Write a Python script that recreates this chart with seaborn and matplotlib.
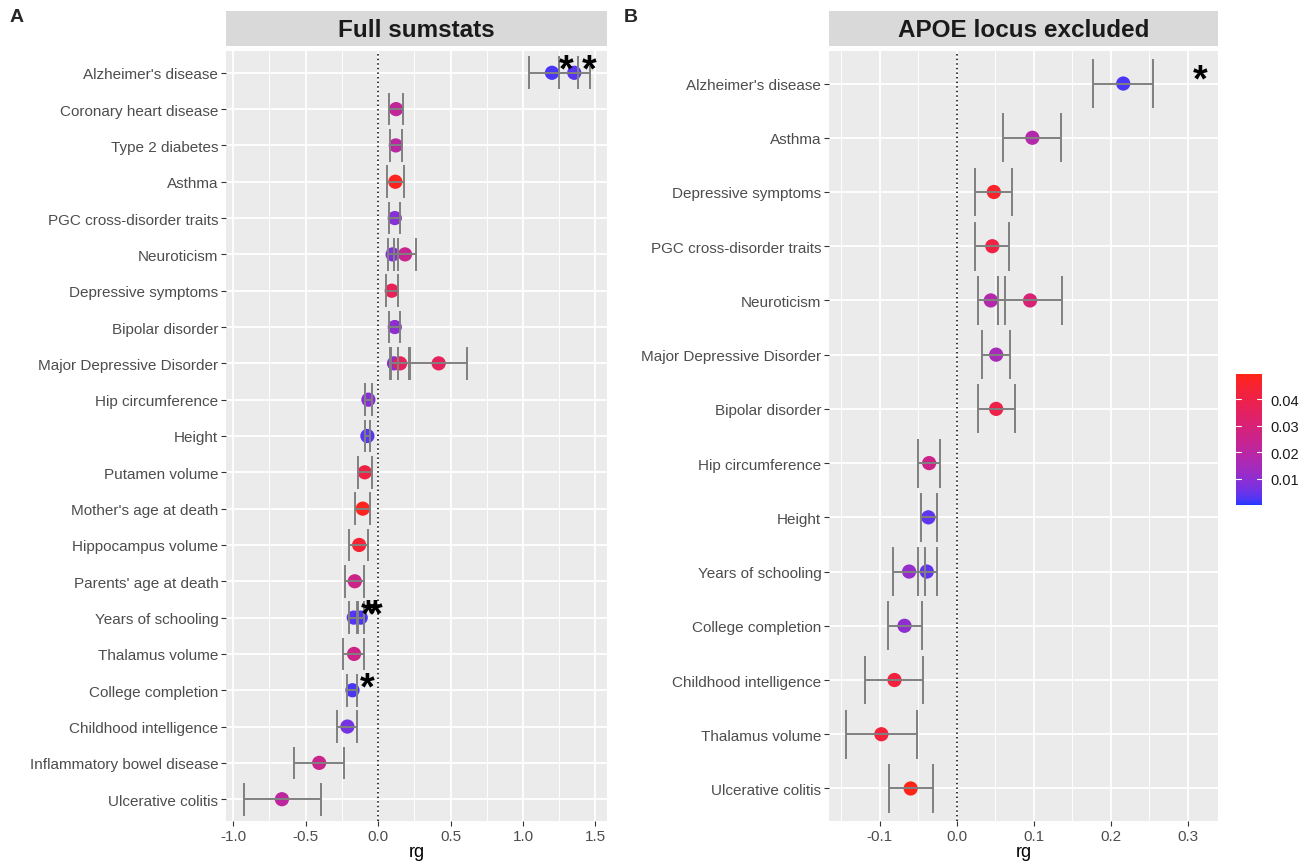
import numpy as np
import pandas as pd
import matplotlib
matplotlib.use("Agg")
import matplotlib.pyplot as plt
import seaborn as sns
from matplotlib.colors import ListedColormap, Normalize, to_rgb
from matplotlib.ticker import MultipleLocator

# ---- panel A: full sumstats (one entry per point, rows in order top->bottom)
trait_a = ["Alzheimer's disease", "Alzheimer's disease", "Coronary heart disease",
           "Type 2 diabetes", "Asthma", "PGC cross-disorder traits", "Neuroticism",
           "Neuroticism", "Depressive symptoms", "Bipolar disorder",
           "Major Depressive Disorder", "Major Depressive Disorder",
           "Major Depressive Disorder", "Hip circumference", "Height",
           "Putamen volume", "Mother's age at death", "Hippocampus volume",
           "Parents' age at death", "Years of schooling", "Years of schooling",
           "Thalamus volume", "College completion", "Childhood intelligence",
           "Inflammatory bowel disease", "Ulcerative colitis"]
rg_a = [1.20, 1.354, 0.124, 0.122, 0.119, 0.115, 0.100, 0.186, 0.094, 0.115,
        0.110, 0.152, 0.418, -0.067, -0.074, -0.092, -0.106, -0.131, -0.161,
        -0.168, -0.120, -0.166, -0.177, -0.212, -0.407, -0.664]
lo_a = [1.04, 1.248, 0.076, 0.080, 0.060, 0.078, 0.071, 0.110, 0.053, 0.076,
        0.083, 0.090, 0.222, -0.090, -0.090, -0.136, -0.159, -0.200, -0.230,
        -0.198, -0.145, -0.239, -0.216, -0.281, -0.581, -0.929]
hi_a = [1.38, 1.462, 0.172, 0.166, 0.177, 0.154, 0.135, 0.260, 0.136, 0.152,
        0.137, 0.214, 0.614, -0.041, -0.055, -0.043, -0.053, -0.069, -0.094,
        -0.138, -0.094, -0.094, -0.145, -0.143, -0.234, -0.393]
col_a = [0.002, 0.003, 0.022, 0.020, 0.048, 0.009, 0.008, 0.024, 0.037, 0.010,
         0.010, 0.036, 0.036, 0.009, 0.003, 0.041, 0.048, 0.045, 0.026,
         0.003, 0.002, 0.026, 0.002, 0.006, 0.025, 0.021]
star_a = [True, True] + [False] * 17 + [True, True, False, True, False, False, False]

# ---- panel B: APOE locus excluded
trait_b = ["Alzheimer's disease", "Asthma", "Depressive symptoms",
           "PGC cross-disorder traits", "Neuroticism", "Neuroticism",
           "Major Depressive Disorder", "Bipolar disorder", "Hip circumference",
           "Height", "Years of schooling", "Years of schooling",
           "College completion", "Childhood intelligence", "Thalamus volume",
           "Ulcerative colitis"]
rg_b = [0.216, 0.098, 0.048, 0.046, 0.044, 0.095, 0.051, 0.051, -0.036, -0.037,
        -0.062, -0.039, -0.068, -0.081, -0.098, -0.060]
lo_b = [0.177, 0.060, 0.024, 0.024, 0.027, 0.054, 0.032, 0.027, -0.051, -0.047,
        -0.083, -0.050, -0.090, -0.119, -0.144, -0.088]
hi_b = [0.255, 0.135, 0.072, 0.068, 0.062, 0.137, 0.069, 0.075, -0.022, -0.026,
        -0.042, -0.026, -0.045, -0.044, -0.052, -0.031]
col_b = [0.002, 0.018, 0.046, 0.041, 0.018, 0.030, 0.015, 0.040, 0.026, 0.004,
         0.011, 0.004, 0.010, 0.042, 0.043, 0.049]
star_b = [True] + [False] * 15

col_ticks = [0.01, 0.02, 0.03, 0.04]
col_range = (0.0, 0.0495)


# blue -> red gradient interpolated in Lab space (like ggplot's scale_colour_gradient)
M = np.array([[0.4124, 0.3576, 0.1805], [0.2126, 0.7152, 0.0722], [0.0193, 0.1192, 0.9505]])
WHITE = np.array([0.95047, 1.0, 1.08883])


def to_lab(c):
    rgb = np.array(to_rgb(c))
    lin = np.where(rgb <= 0.04045, rgb / 12.92, ((rgb + 0.055) / 1.055) ** 2.4)
    xyz = M @ lin / WHITE
    f = np.where(xyz > 0.008856, np.cbrt(xyz), 7.787 * xyz + 16 / 116)
    return np.array([116 * f[1] - 16, 500 * (f[0] - f[1]), 200 * (f[1] - f[2])])


def from_lab(lab):
    fy = (lab[:, 0] + 16) / 116
    f = np.stack([fy + lab[:, 1] / 500, fy, fy - lab[:, 2] / 200], axis=1)
    xyz = np.where(f > 0.2069, f ** 3, (f - 16 / 116) / 7.787) * WHITE
    lin = xyz @ np.linalg.inv(M).T
    lin = np.clip(lin, 0, 1)
    rgb = np.where(lin <= 0.0031308, 12.92 * lin, 1.055 * lin ** (1 / 2.4) - 0.055)
    return np.clip(rgb, 0, 1)


t = np.linspace(0, 1, 256)[:, None]
lab_lo, lab_hi = to_lab("#2038FF"), to_lab("#FF2414")
cmap = ListedColormap(from_lab(lab_lo * (1 - t) + lab_hi * t))
norm = Normalize(*col_range)

sns.set_style("darkgrid", {"axes.facecolor": "#EBEBEB", "grid.color": "white"})
plt.rcParams["font.family"] = ["Liberation Sans", "DejaVu Sans"]

W, H = 1309, 862
fig = plt.figure(figsize=(W / 100, H / 100), dpi=100)
fig.patch.set_facecolor("white")


def panel(left, right, title, trait, rg, lo, hi, col, star, xlim, major, minor):
    df = pd.DataFrame({"trait": trait, "rg": rg, "lo": lo, "hi": hi,
                       "col": col, "star": star})
    rows = list(pd.unique(df["trait"]))
    df["ypos"] = df["trait"].map({r: i for i, r in enumerate(rows)})

    ax = fig.add_axes([left / W, (H - 822) / H, (right - left) / W, 770 / H])
    ax.set_xlim(*xlim)
    ax.set_ylim(len(rows) - 1 + 0.6, -0.6)
    ax.xaxis.set_major_locator(MultipleLocator(major))
    ax.xaxis.set_minor_locator(MultipleLocator(minor))
    ax.grid(which="major", color="white", lw=1.3)
    ax.grid(which="minor", axis="x", color="white", lw=0.65)
    ax.set_axisbelow(True)
    for s in ax.spines.values():
        s.set_visible(False)

    ax.axvline(0, color="black", lw=1.1, ls=(0, (1, 2)), zorder=1)
    sns.scatterplot(data=df, x="rg", y="ypos", hue="col", palette=cmap,
                    hue_norm=norm, s=105, linewidth=0, legend=False, ax=ax, zorder=3)
    ax.hlines(df["ypos"], df["lo"], df["hi"], color="#808080", lw=1.4, zorder=4)
    for end in ("lo", "hi"):
        ax.vlines(df[end], df["ypos"] - 0.45, df["ypos"] + 0.45,
                  color="#808080", lw=1.4, zorder=4)
    for _, r in df[df["star"]].iterrows():
        ax.text(r["rg"] + 0.1, r["ypos"] - 0.05, "*", fontsize=27, fontweight="bold",
                ha="center", va="center", color="black", zorder=5)

    ax.set_yticks(range(len(rows)))
    ax.set_yticklabels(rows)
    ax.set_xticks(np.arange(np.ceil(xlim[0] / major) * major, xlim[1], major))
    ax.set_xticklabels([f"{v:.1f}" for v in ax.get_xticks()])
    ax.tick_params(axis="both", which="major", length=3.5, width=0.8, color="#333333",
                   labelsize=11, labelcolor="#4D4D4D", pad=2, left=True, bottom=True)
    ax.tick_params(axis="x", which="minor", length=0)
    ax.set_xlabel("rg", fontsize=13, color="black", labelpad=0)
    ax.set_ylabel("")

    strip = fig.add_axes([left / W, (H - 47) / H, (right - left) / W, 35 / H])
    strip.set_facecolor("#D9D9D9")
    strip.set_xticks([])
    strip.set_yticks([])
    strip.grid(False)
    for s in strip.spines.values():
        s.set_visible(False)
    strip.text(0.5, 0.48, title, ha="center", va="center", fontsize=17.5,
               fontweight="bold", color="#1A1A1A", transform=strip.transAxes)
    return ax


panel(226, 607, "Full sumstats", trait_a, rg_a, lo_a, hi_a, col_a, star_a,
      (-1.05, 1.58), 0.5, 0.25)
panel(829, 1218, "APOE locus excluded", trait_b, rg_b, lo_b, hi_b, col_b, star_b,
      (-0.166, 0.339), 0.1, 0.05)

fig.text(17 / W, 1 - 18 / H, "A", fontsize=14, fontweight="bold", ha="center", va="center")
fig.text(631 / W, 1 - 18 / H, "B", fontsize=14, fontweight="bold", ha="center", va="center")

# colour bar
cax = fig.add_axes([1236 / W, (H - 506) / H, 26 / W, 131 / H])
sm = matplotlib.cm.ScalarMappable(norm=norm, cmap=cmap)
cb = fig.colorbar(sm, cax=cax, ticks=col_ticks)
cb.outline.set_visible(False)
cb.ax.tick_params(length=0, labelsize=10.5, labelcolor="#1A1A1A", pad=6)
for v in col_ticks:
    cax.plot([0, 0.2], [v, v], color="white", lw=0.8, transform=cax.get_yaxis_transform())
    cax.plot([0.8, 1], [v, v], color="white", lw=0.8, transform=cax.get_yaxis_transform())

fig.savefig("out.png", dpi=100, facecolor="white")
